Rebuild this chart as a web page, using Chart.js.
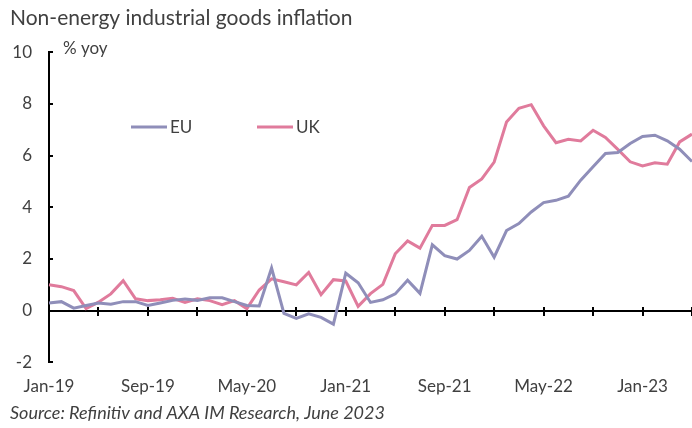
<!DOCTYPE html>
<html>
<head>
<meta charset="utf-8">
<script src="https://cdn.jsdelivr.net/npm/chart.js@4.4.0/dist/chart.umd.min.js"></script>
<style>
    html, body { margin: 0; padding: 0; background: #fff; }
    #wrap { width: 692px; height: 428px; }
</style>
</head>
<body>
<div id="wrap"><canvas id="inflationChart"></canvas></div>
<script>
// Monthly categories, Jan-19 .. May-23
const months = [
    'Jan-19', 'Feb-19', 'Mar-19', 'Apr-19', 'May-19', 'Jun-19', 'Jul-19', 'Aug-19', 'Sep-19', 'Oct-19', 'Nov-19', 'Dec-19',
    'Jan-20', 'Feb-20', 'Mar-20', 'Apr-20', 'May-20', 'Jun-20', 'Jul-20', 'Aug-20', 'Sep-20', 'Oct-20', 'Nov-20', 'Dec-20',
    'Jan-21', 'Feb-21', 'Mar-21', 'Apr-21', 'May-21', 'Jun-21', 'Jul-21', 'Aug-21', 'Sep-21', 'Oct-21', 'Nov-21', 'Dec-21',
    'Jan-22', 'Feb-22', 'Mar-22', 'Apr-22', 'May-22', 'Jun-22', 'Jul-22', 'Aug-22', 'Sep-22', 'Oct-22', 'Nov-22', 'Dec-22',
    'Jan-23', 'Feb-23', 'Mar-23', 'Apr-23', 'May-23'
];

// % yoy
const euValues = [
    0.3, 0.35, 0.1, 0.2, 0.3, 0.25, 0.35, 0.35, 0.2, 0.3, 0.4, 0.45,
    0.4, 0.5, 0.5, 0.35, 0.2, 0.18, 1.65, -0.1, -0.3, -0.12, -0.26, -0.52,
    1.45, 1.08, 0.32, 0.42, 0.65, 1.18, 0.67, 2.55, 2.13, 2.0, 2.33, 2.88,
    2.07, 3.1, 3.37, 3.82, 4.18, 4.27, 4.43, 5.05, 5.57, 6.08, 6.12, 6.47,
    6.74, 6.79, 6.57, 6.25, 5.77
];
const ukValues = [
    1.0, 0.93, 0.78, 0.08, 0.33, 0.65, 1.16, 0.46, 0.39, 0.42, 0.48, 0.32,
    0.46, 0.39, 0.23, 0.39, 0.08, 0.8, 1.23, 1.12, 1.0, 1.48, 0.62, 1.2,
    1.15, 0.17, 0.66, 1.02, 2.2, 2.7, 2.42, 3.3, 3.3, 3.52, 4.77, 5.1,
    5.75, 7.3, 7.83, 7.97, 7.15, 6.5, 6.63, 6.57, 6.98, 6.7, 6.24, 5.76,
    5.6, 5.72, 5.67, 6.53, 6.83
];

const seriesNames = ['EU', 'UK'];
const yTicks = [-2, 0, 2, 4, 6, 8, 10];
const unitLabel = '% yoy';
const titleText = 'Non-energy industrial goods inflation';
const sourceText = 'Source: Refinitiv and AXA IM Research, June 2023';

const EU_COLOR = '#8f8eb9';
const UK_COLOR = '#e07b9c';
const TEXT_COLOR = '#404040';
const FONT = 'Lato, "Open Sans", sans-serif';

// "% yoy" label and the in-plot legend
const overlayText = {
    id: 'overlayText',
    afterDraw(chart) {
        const ctx = chart.ctx;
        const area = chart.chartArea;
        ctx.save();
        ctx.font = '17px ' + FONT;
        ctx.fillStyle = TEXT_COLOR;
        ctx.textBaseline = 'middle';
        ctx.fillText(unitLabel, area.left + 14, area.top - 4);

        const legendX = [131, 257];
        const legendY = 127;
        chart.data.datasets.forEach((ds, i) => {
            ctx.strokeStyle = ds.borderColor;
            ctx.lineWidth = 3;
            ctx.beginPath();
            ctx.moveTo(legendX[i], legendY);
            ctx.lineTo(legendX[i] + 36, legendY);
            ctx.stroke();
            ctx.fillText(ds.label, legendX[i] + 39, legendY + 1);
        });
        ctx.restore();
    }
};

const tickMarkColor = c => (c.index % 4 === 0 ? '#000' : 'rgba(0,0,0,0)');

const ctx = document.getElementById('inflationChart').getContext('2d');
const inflationChart = new Chart(ctx, {
    type: 'line',
    data: {
        labels: months,
        datasets: [{
            label: seriesNames[0],
            data: euValues,
            borderColor: EU_COLOR,
            borderWidth: 3,
            pointRadius: 0,
            tension: 0,
            fill: false
        }, {
            label: seriesNames[1],
            data: ukValues,
            borderColor: UK_COLOR,
            borderWidth: 3,
            pointRadius: 0,
            tension: 0,
            fill: false
        }]
    },
    options: {
        responsive: true,
        maintainAspectRatio: false,
        animation: false,
        layout: { padding: { left: 10, right: 0, top: 0, bottom: 0 } },
        scales: {
            x: {
                type: 'category',
                offset: false,
                grid: { display: false, drawTicks: false },
                border: { display: false },
                afterFit: scale => {
                    scale.height = 32;
                    scale.paddingRight = 0;
                },
                ticks: {
                    autoSkip: false,
                    maxRotation: 0,
                    padding: 14,
                    color: TEXT_COLOR,
                    font: { family: FONT, size: 17 },
                    callback: function (value, index) {
                        return index % 8 === 0 ? this.getLabelForValue(value) : '';
                    }
                }
            },
            // axis line at zero with tick marks below and above it
            xTickDown: {
                axis: 'x',
                type: 'category',
                position: { y: 0 },
                offset: false,
                ticks: { display: false, autoSkip: false },
                grid: { drawOnChartArea: false, tickLength: 4, lineWidth: 2, color: tickMarkColor },
                border: { display: true, color: '#000', width: 2 }
            },
            xTickUp: {
                axis: 'x',
                type: 'category',
                position: { y: 0 },
                offset: false,
                ticks: { display: false, autoSkip: false },
                grid: { drawOnChartArea: false, tickLength: -4, lineWidth: 2, color: tickMarkColor },
                border: { display: false }
            },
            y: {
                min: yTicks[0],
                max: yTicks[yTicks.length - 1],
                afterBuildTicks: scale => { scale.ticks = yTicks.map(v => ({ value: v })); },
                afterFit: scale => { scale.width = 39; },
                grid: { display: false, drawTicks: false },
                border: { display: false },
                ticks: {
                    padding: 17,
                    color: TEXT_COLOR,
                    font: { family: FONT, size: 17 }
                }
            },
            yLine: {
                axis: 'y',
                type: 'linear',
                position: { x: 0 },
                min: yTicks[0],
                max: yTicks[yTicks.length - 1],
                afterBuildTicks: scale => { scale.ticks = yTicks.map(v => ({ value: v })); },
                ticks: { display: false },
                grid: { drawOnChartArea: false, tickLength: -5, lineWidth: 2, color: '#000' },
                border: { display: true, color: '#000', width: 2 }
            }
        },
        plugins: {
            legend: { display: false },
            tooltip: { enabled: false },
            title: {
                display: true,
                text: titleText,
                align: 'start',
                color: TEXT_COLOR,
                font: { family: FONT, size: 21, weight: 'normal' },
                padding: { top: 6, bottom: 21 }
            },
            subtitle: {
                display: true,
                position: 'bottom',
                text: sourceText,
                align: 'start',
                color: TEXT_COLOR,
                font: { family: FONT, size: 18, style: 'italic' },
                padding: { top: 8, bottom: 4 }
            }
        }
    },
    plugins: [overlayText]
});
</script>
</body>
</html>
